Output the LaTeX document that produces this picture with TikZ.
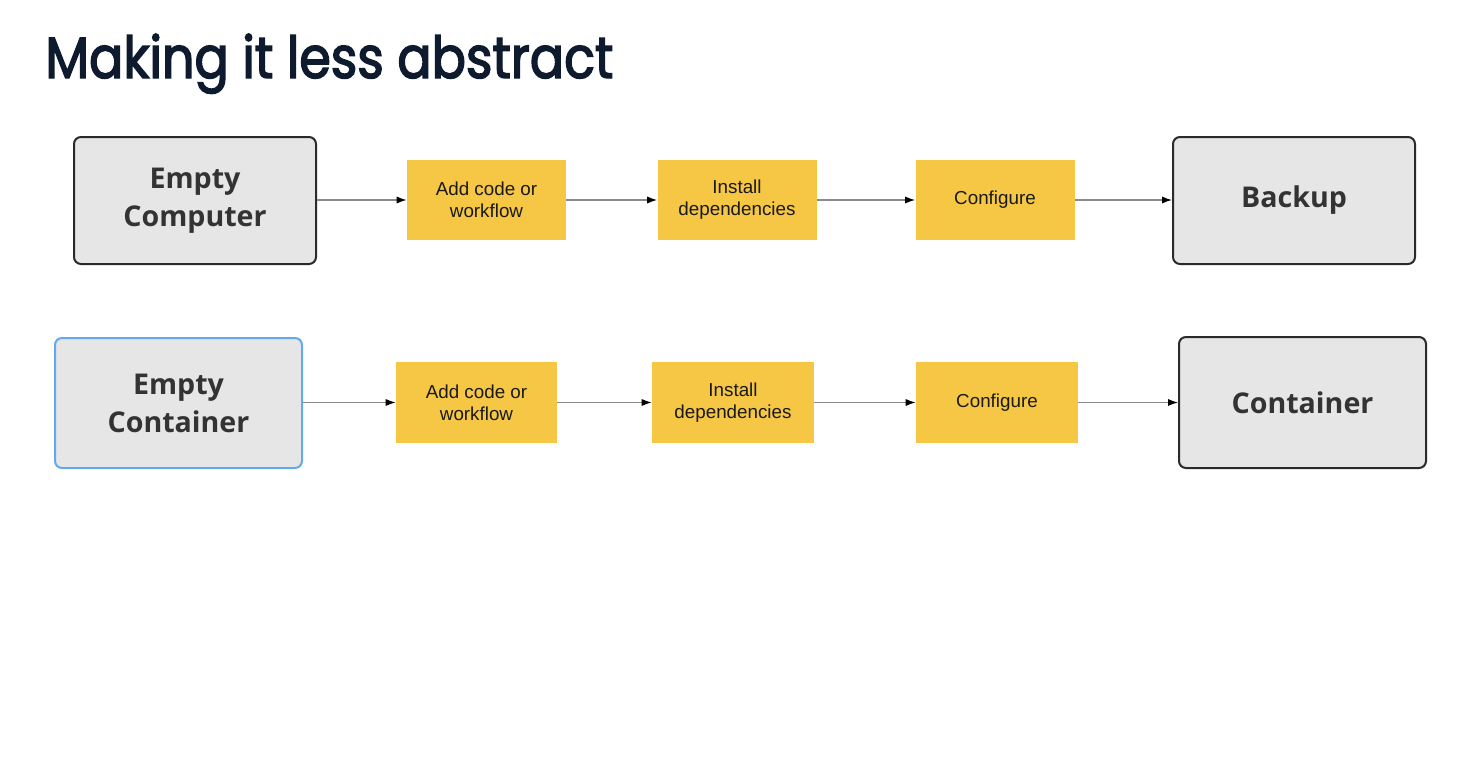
\documentclass[tikz,border=0pt]{standalone}
\usepackage{fontspec}
\setmainfont{Liberation Sans}
\newfontfamily\titlefont[FakeBold=2.5,FakeStretch=0.875]{Poppins}
\newfontfamily\labelfont{Open Sans}
\usetikzlibrary{arrows.meta}
\definecolor{titlecol}{HTML}{0E1B2E}
\definecolor{yell}{HTML}{F6C744}
\definecolor{grayfill}{HTML}{E6E6E6}
\definecolor{darkborder}{HTML}{2A2A2A}
\definecolor{blueborder}{HTML}{66A8EE}
\definecolor{labeltext}{HTML}{333333}
\definecolor{arrowline}{HTML}{8A8A8A}
\tikzset{
  endbox/.style={draw=darkborder, line width=1pt, fill=grayfill, rounded corners=3.5pt,
    align=center, font=\labelfont\bfseries\fontsize{14.3}{19}\selectfont, text=labeltext, inner sep=0pt},
  stepbox/.style={draw=none, fill=yell, align=center,
    font=\fontsize{9.4}{11}\selectfont, text=black!90, inner sep=0pt},
  conn/.style={draw=arrowline, line width=0.6pt, -{Latex[length=5pt,width=3.6pt,color=black]}}
}
\begin{document}
\begin{tikzpicture}[x=0.5pt,y=-0.5pt]
\useasboundingbox[fill=white] (0,0) rectangle (1480,760);
\node[anchor=base west, font=\titlefont\fontsize{29}{34}\selectfont, text=titlecol, inner sep=0pt] (title) at (45,78) {Making it less abstract};
% row 1
\node[endbox, minimum width=121pt, minimum height=63.5pt] (ec) at (195,200.5) {Empty\\Computer};
\node[stepbox, minimum width=79.5pt, minimum height=40pt] (a1) at (486.5,200) {Add code or\\workflow};
\node[stepbox, minimum width=79.5pt, minimum height=40pt] (i1) at (737,200) {Install\\dependencies};
\node[stepbox, minimum width=79.5pt, minimum height=40pt] (c1) at (995,200) {Configure};
\node[endbox, minimum width=121pt, minimum height=63.5pt] (bk) at (1294,200.5) {Backup};
\draw[conn] (ec.east |- a1.west) -- (a1.west);
\draw[conn] (a1) -- (i1);
\draw[conn] (i1) -- (c1);
\draw[conn] (c1.east) -- (c1.east -| bk.west);
% row 2
\node[endbox, draw=blueborder, minimum width=123.5pt, minimum height=65pt] (eco) at (178.5,403) {Empty\\Container};
\node[stepbox, minimum width=80.5pt, minimum height=40.5pt] (a2) at (476.5,402.5) {Add code or\\workflow};
\node[stepbox, minimum width=81pt, minimum height=40.5pt] (i2) at (733,402.5) {Install\\dependencies};
\node[stepbox, minimum width=81pt, minimum height=40.5pt] (c2) at (997,402.5) {Configure};
\node[endbox, minimum width=123.5pt, minimum height=65.5pt] (co) at (1302.5,402.5) {Container};
\draw[conn] (eco.east |- a2.west) -- (a2.west);
\draw[conn] (a2) -- (i2);
\draw[conn] (i2) -- (c2);
\draw[conn] (c2.east) -- (c2.east -| co.west);
\end{tikzpicture}
\end{document}
